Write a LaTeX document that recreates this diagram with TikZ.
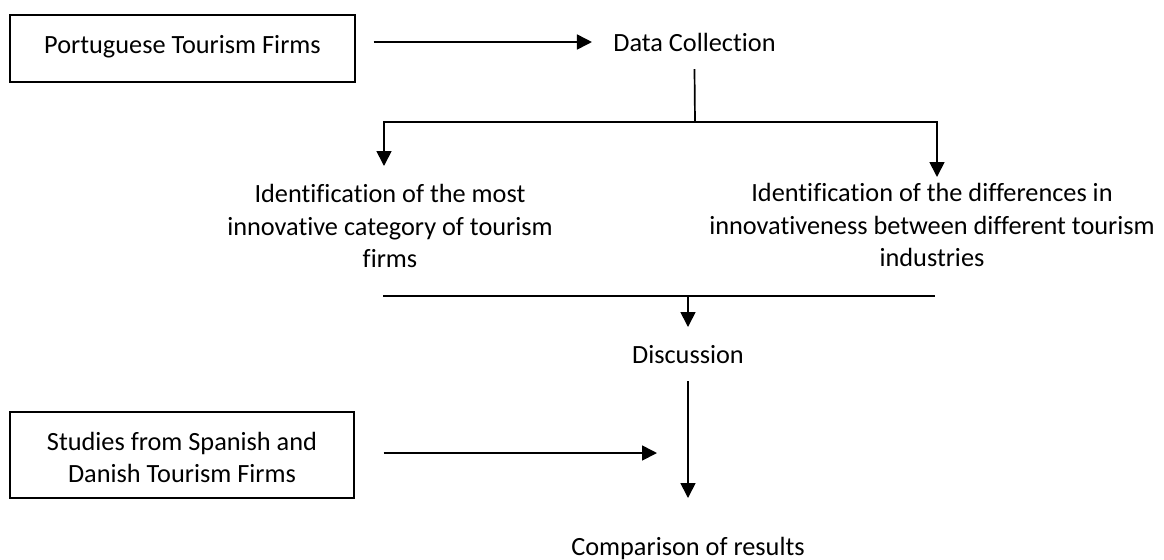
\documentclass[tikz,border=0pt]{standalone}
\usepackage{fontspec}
\setmainfont{Carlito}[Ligatures=NoCommon]
\usetikzlibrary{arrows.meta,calc}
\tikzset{
  conn/.style={line width=0.85pt},
  arr/.style={conn,-{Triangle[length=7.5pt,width=7.5pt]}},
  boxnode/.style={draw,line width=0.7pt,inner sep=0pt,align=center},
  txt/.style={inner sep=0pt,align=center},
}
\begin{document}
\begin{tikzpicture}[x=0.5pt,y=-0.5pt,font=\fontsize{13.15pt}{16.25pt}\selectfont]
\useasboundingbox (0,0) rectangle (1164,559);
% boxes
\node[boxnode,minimum width=172.5pt,minimum height=33.5pt] (pt) at (182.5,48.5) {\raisebox{1pt}[\height][\depth]{Portuguese Tourism Firms}};
\node[boxnode,minimum width=172pt,minimum height=43pt] (st) at (182,455) {\raisebox{-2.5pt}[\height][\depth]{\begin{tabular}{@{}c@{}}Studies from Spanish and\\[-0.4pt]Danish Tourism Firms\end{tabular}}};
% text nodes
\node[txt,anchor=base] (dc) at (694.5,51.5) {Data Collection};
\node[txt,anchor=north] (id1) at (390,184) {Identification of the most\\innovative category of tourism\\firms};
\node[txt,anchor=north] (id2) at (932,183) {Identification of the differences in\\innovativeness between different tourism\\industries};
\node[txt,anchor=base] (disc) at (688,363.5) {Discussion};
\node[txt,anchor=base] (comp) at (688,555) {Comparison of results};
% junction coordinates
\coordinate (ay) at (0,42);
\coordinate (j) at (695,122);
\coordinate (t1) at (384,166);
\coordinate (t2) at (937,177);
\coordinate (bl) at (383,296);
\coordinate (br) at (935,296);
\coordinate (s1) at (657,453);
% connectors
\draw[arr] ($(pt.east|-ay)+(9pt,0)$) -- ($(dc.west|-ay)+(-10.5pt,0)$);
\draw[conn] ([yshift=-8.75pt]dc.base) -- (j);
\draw[arr] (j) -| (t1);
\draw[arr] (j) -| (t2);
\draw[conn] (bl) -- (br);
\draw[arr] (disc.base |- bl) -- ([yshift=18.25pt]disc.base);
\draw[arr] ([yshift=-8.75pt]disc.base) -- ([yshift=28.5pt]comp.base);
\draw[arr] (st.east |- s1) ++(14.5pt,0) -- (s1);
\end{tikzpicture}
\end{document}
